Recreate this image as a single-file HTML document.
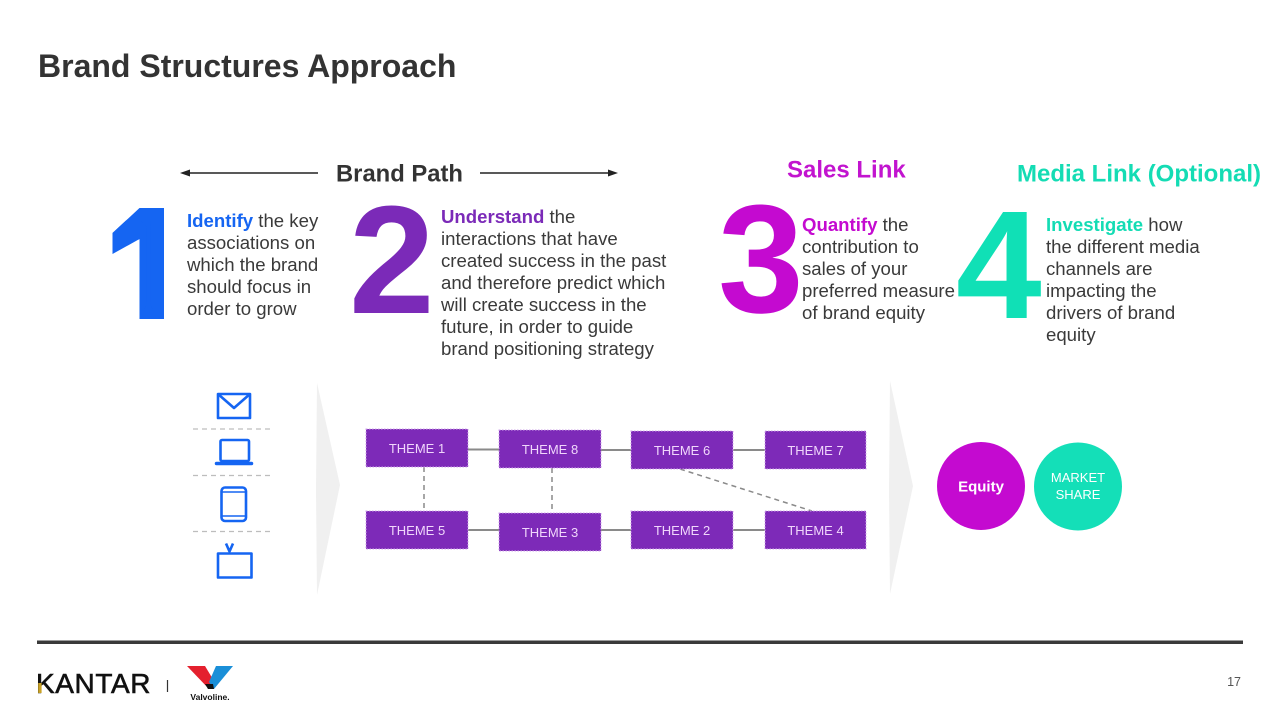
<!DOCTYPE html>
<html>
<head>
<meta charset="utf-8">
<style>
  html,body{margin:0;padding:0;background:#fff;}
  body{width:1280px;height:720px;overflow:hidden;}
  svg{display:block;}
  text{font-family:"Liberation Sans", Arial, sans-serif;}
</style>
</head>
<body>
<svg width="1280" height="720" viewBox="0 0 1280 720" xmlns="http://www.w3.org/2000/svg">
  <defs>
    <clipPath id="oneclip">
      <polygon points="139.5,208 164,208 164,319 139.5,319 139.5,239 112.5,254 112.5,233"/>
    </clipPath>
  </defs>
  <rect width="1280" height="720" fill="#ffffff"/>

  <!-- Title -->
  <text x="38" y="77" font-size="32" font-weight="bold" fill="#333333">Brand Structures Approach</text>

  <!-- Brand Path header with arrows -->
  <line x1="188" y1="173" x2="318" y2="173" stroke="#222" stroke-width="1.4"/>
  <polygon points="180,173 190,169.5 190,176.5" fill="#222"/>
  <line x1="480" y1="173" x2="610" y2="173" stroke="#222" stroke-width="1.4"/>
  <polygon points="618,173 608,169.5 608,176.5" fill="#222"/>
  <text x="336" y="181.5" font-size="23.8" font-weight="bold" fill="#333333">Brand Path</text>

  <text x="787" y="177.5" font-size="24" font-weight="bold" fill="#c214cf">Sales Link</text>
  <text x="1017" y="181.5" font-size="24" font-weight="bold" fill="#14dcb4">Media Link (Optional)</text>

  <!-- Big numbers -->
  <g clip-path="url(#oneclip)">
    <text x="102" y="318" font-size="154" font-weight="bold" fill="#1565f2" stroke="#1565f2" stroke-width="18" stroke-linejoin="round">1</text>
  </g>
  <text x="349" y="313" font-size="154" font-weight="bold" fill="#7b2ab8">2</text>
  <text x="718" y="312" font-size="154" font-weight="bold" fill="#c40ad0">3</text>
  <text x="956" y="318" font-size="154" font-weight="bold" fill="#10e0b6">4</text>

  <!-- Text 1 -->
  <g font-size="18.6" fill="#3a3a3a">
    <text x="187" y="227"><tspan font-weight="bold" fill="#1565f2">Identify</tspan> the key</text>
    <text x="187" y="249">associations on</text>
    <text x="187" y="271">which the brand</text>
    <text x="187" y="293">should focus in</text>
    <text x="187" y="315">order to grow</text>
  </g>

  <!-- Text 2 -->
  <g font-size="18.6" fill="#3a3a3a">
    <text x="441" y="223"><tspan font-weight="bold" fill="#7b2ab8">Understand</tspan> the</text>
    <text x="441" y="245">interactions that have</text>
    <text x="441" y="267">created success in the past</text>
    <text x="441" y="289">and therefore predict which</text>
    <text x="441" y="311">will create success in the</text>
    <text x="441" y="333">future, in order to guide</text>
    <text x="441" y="355">brand positioning strategy</text>
  </g>

  <!-- Text 3 -->
  <g font-size="18.6" fill="#3a3a3a">
    <text x="802" y="231"><tspan font-weight="bold" fill="#c40ad0">Quantify</tspan> the</text>
    <text x="802" y="253">contribution to</text>
    <text x="802" y="275">sales of your</text>
    <text x="802" y="297">preferred measure</text>
    <text x="802" y="319">of brand equity</text>
  </g>

  <!-- Text 4 -->
  <g font-size="18.6" fill="#3a3a3a">
    <text x="1046" y="231"><tspan font-weight="bold" fill="#14dcb4">Investigate</tspan> how</text>
    <text x="1046" y="253">the different media</text>
    <text x="1046" y="275">channels are</text>
    <text x="1046" y="297">impacting the</text>
    <text x="1046" y="319">drivers of brand</text>
    <text x="1046" y="341">equity</text>
  </g>

  <!-- Media icons -->
  <g stroke="#1565f2" stroke-width="2.6" fill="none" stroke-linejoin="round">
    <rect x="218" y="394" width="32" height="24"/>
    <polyline points="218,394 234,408 250,394"/>
    <rect x="220.5" y="440" width="28.5" height="21" rx="1.5"/>
    <line x1="216.5" y1="463.5" x2="251.5" y2="463.5" stroke-width="3.5" stroke-linecap="round"/>
    <rect x="221.5" y="487.5" width="24.5" height="33.5" rx="3.5"/>
    <line x1="221.5" y1="492" x2="246" y2="492" stroke-width="1.6"/>
    <line x1="221.5" y1="516" x2="246" y2="516" stroke-width="1.6"/>
    <rect x="218" y="553.5" width="33.5" height="24"/>
    <polyline points="226,543.5 229.5,551.5 233,543.5"/>
  </g>
  <g stroke="#bdbdbd" stroke-width="1.2" stroke-dasharray="5,4">
    <line x1="193" y1="429" x2="273" y2="429"/>
    <line x1="193" y1="475.5" x2="273" y2="475.5"/>
    <line x1="193" y1="531.5" x2="273" y2="531.5"/>
  </g>

  <!-- Gray chevrons -->
  <polygon points="317,383 340,485 317,595 316,490" fill="#f0f0f0"/>
  <polygon points="890,381 913,486 890,594 889,490" fill="#f0f0f0"/>

  <!-- Connectors -->
  <g stroke="#8a8a8a" stroke-width="2">
    <line x1="468" y1="449.5" x2="499" y2="449.5"/>
    <line x1="601" y1="450" x2="631" y2="450"/>
    <line x1="733" y1="450" x2="765" y2="450"/>
    <line x1="468" y1="530" x2="499" y2="530"/>
    <line x1="601" y1="530" x2="631" y2="530"/>
    <line x1="733" y1="530" x2="765" y2="530"/>
  </g>
  <g stroke="#8a8a8a" stroke-width="1.5" stroke-dasharray="5,4">
    <line x1="424" y1="467" x2="424" y2="511"/>
    <line x1="552" y1="468" x2="552" y2="512"/>
    <line x1="680" y1="469" x2="812" y2="511"/>
  </g>

  <!-- Theme boxes -->
  <g fill="#7d2ab8" stroke="#cfa4ea" stroke-width="1" stroke-dasharray="1.5,1.5">
    <rect x="366" y="429" width="102" height="38"/>
    <rect x="499" y="430" width="102" height="38"/>
    <rect x="631" y="431" width="102" height="38"/>
    <rect x="765" y="431" width="101" height="38"/>
    <rect x="366" y="511" width="102" height="38"/>
    <rect x="499" y="513" width="102" height="38"/>
    <rect x="631" y="511" width="102" height="38"/>
    <rect x="765" y="511" width="101" height="38"/>
  </g>
  <g font-size="13" fill="#f0d6fb" text-anchor="middle">
    <text x="417" y="453">THEME 1</text>
    <text x="550" y="454">THEME 8</text>
    <text x="682" y="455">THEME 6</text>
    <text x="815.5" y="455">THEME 7</text>
    <text x="417" y="535">THEME 5</text>
    <text x="550" y="537">THEME 3</text>
    <text x="682" y="535">THEME 2</text>
    <text x="815.5" y="535">THEME 4</text>
  </g>

  <!-- Circles -->
  <circle cx="981" cy="486" r="44" fill="#c40ad0"/>
  <circle cx="1078" cy="486.5" r="44" fill="#14dfb8"/>
  <text x="981" y="491.5" font-size="15" font-weight="bold" fill="#ffffff" text-anchor="middle">Equity</text>
  <g font-size="13" fill="#ffffff" text-anchor="middle">
    <text x="1078" y="482">MARKET</text>
    <text x="1078" y="499">SHARE</text>
  </g>

  <!-- Footer line -->
  <rect x="37" y="640.5" width="1206" height="3.5" fill="#3a3a3a"/>

  <!-- KANTAR logo -->
  <text x="36" y="693" font-size="28" fill="#111111" stroke="#111111" stroke-width="0.6" letter-spacing="0.6">KANTAR</text>
  <rect x="38.2" y="683" width="3.4" height="10" fill="#c9a227"/>
  <line x1="167.5" y1="680" x2="167.5" y2="692" stroke="#333" stroke-width="1.2"/>

  <!-- Valvoline logo -->
  <polygon points="187,666 205,666 214,681 209,689" fill="#e4202e"/>
  <polygon points="216,666 233,666 214,689 209,682" fill="#1a8fd8"/>
  <polygon points="205,684 213,684 214,689 208,689" fill="#111"/>
  <text x="210" y="700" font-size="8.5" font-weight="bold" fill="#111" text-anchor="middle">Valvoline.</text>

  <!-- Page number -->
  <text x="1241" y="686" font-size="12.5" fill="#555555" text-anchor="end">17</text>
</svg>
</body>
</html>
